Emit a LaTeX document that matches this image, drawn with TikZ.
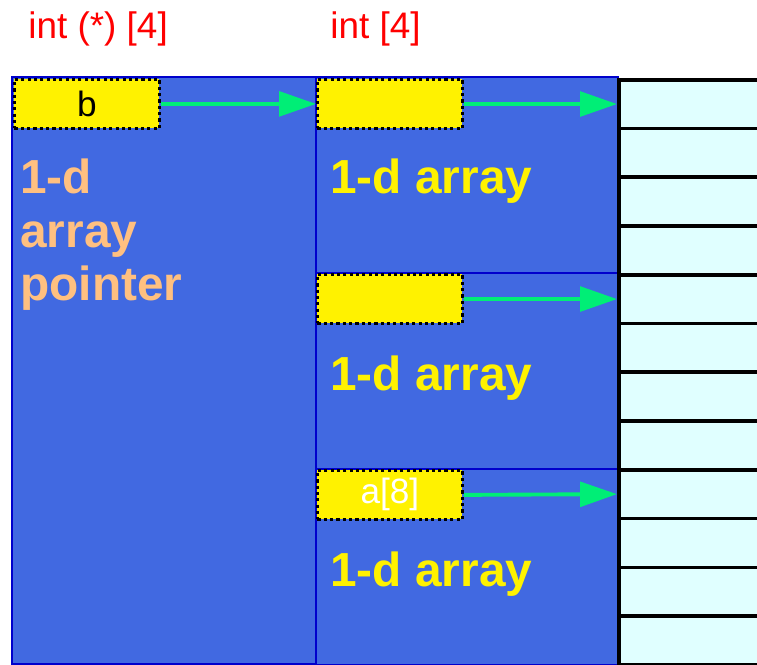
\documentclass[tikz,border=0pt]{standalone}
\usepackage{fontspec}
\setmainfont{Liberation Sans}
\usetikzlibrary{arrows.meta}
\definecolor{arrblue}{HTML}{4169E1}
\definecolor{arredge}{HTML}{0000CC}
\definecolor{cellcyan}{HTML}{E0FFFF}
\definecolor{linkgreen}{RGB}{0,238,118}
\definecolor{ptrorange}{HTML}{FFC080}
\tikzset{block/.style={draw=arredge, line width=1.2pt, fill=arrblue, anchor=north west, inner sep=0pt},
  ptrbox/.style={draw=black, fill=yellow, line width=1.6pt, dash pattern=on 1.8pt off 1.8pt, anchor=north west,
    minimum width=29mm, minimum height=9.8mm, inner sep=0pt, font=\fontsize{20pt}{24pt}\selectfont},
  cell/.style={draw=black, line width=2pt, fill=cellcyan, anchor=north west, minimum width=40mm, minimum height=9.75mm, inner sep=0pt},
  link/.style={draw=linkgreen, line width=2.2pt, -{Triangle[length=21pt,width=14pt]}},
  typelbl/.style={text=red, anchor=base west, inner sep=0pt, font=\fontsize{21pt}{25pt}\selectfont},
  arrlbl/.style={text=yellow, anchor=base west, inner sep=0pt, font=\bfseries\fontsize{27.2pt}{30.7pt}\selectfont}}

\begin{document}
\begin{tikzpicture}[x=0.2mm, y=-0.2mm]
  \clip (0,0) rectangle (757,665);
  \node[block, minimum width=60.8mm, minimum height=117.4mm] (ptr) at (11,76) {};
  \foreach \i/\y in {1/76,2/272,3/468}
    \node[block, minimum width=60.4mm, minimum height=39.2mm] (row\i) at (315,\y) {};
  \foreach \i in {1,...,12}
    \node[cell] (c\i) at (617,{78+(\i-1)*48.75}) {};
  \node[ptrbox] (b)  at (13,78)  {b};
  \node[ptrbox] (p1) at (316,78)  {};
  \node[ptrbox] (p2) at (316,273) {};
  \node[ptrbox, text=white] (p3) at (316,469) {a[8]};
  \draw[link] (b) -- (p1);
  \draw[link] (p1) -- (c1);
  \draw[link] (p2) -- (c5);
  \draw[link] (p3.east) -- (c9.west);
  \node[typelbl] (ptrtype) at (28,39)  {int (*) [4]};
  \node[typelbl] (arrtype) at (330,39) {int [4]};
  % base anchor sits on the last line here
  \node[arrlbl, text=ptrorange, align=left] (ptrtxt) at (20,301) {1-d\\array\\pointer};
  \node[arrlbl] (a1) at (330,194) {1-d array};
  \node[arrlbl] (a2) at (330,390) {1-d array};
  \node[arrlbl] (a3) at (330,586) {1-d array};
\end{tikzpicture}
\end{document}
